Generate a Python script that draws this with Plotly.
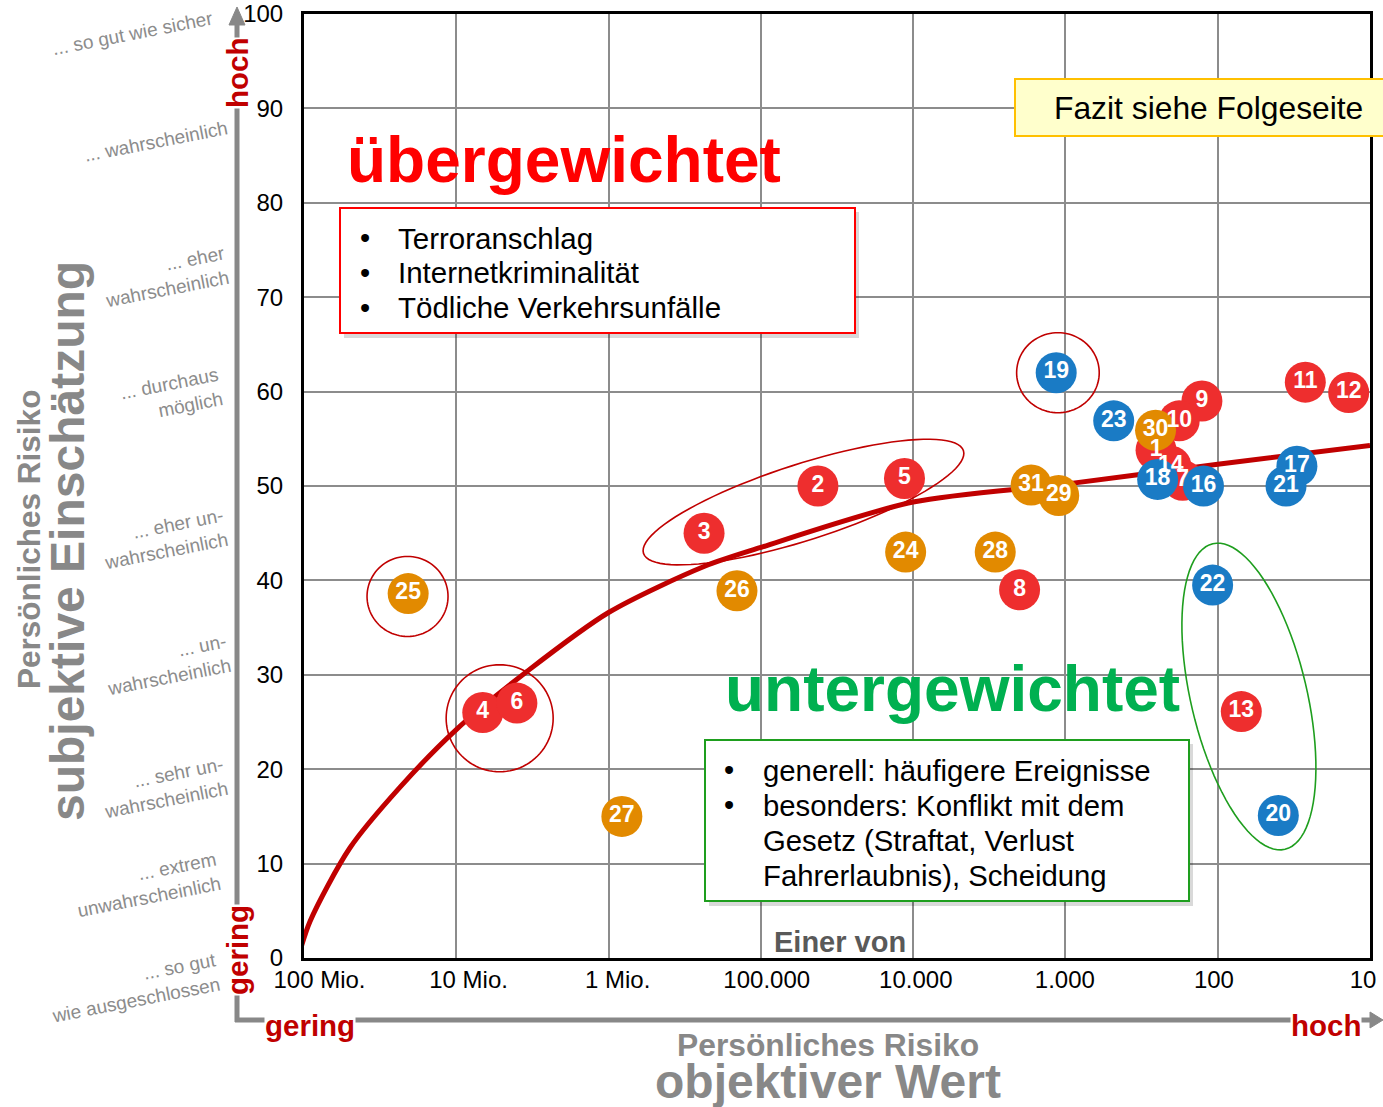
import numpy as np
import plotly.graph_objects as go

# ---------------- data ----------------
ids = [1, 2, 3, 4, 5, 6, 7, 8, 9, 10, 11, 12, 13, 14,
       16, 17, 18, 19, 20, 21, 22, 23,
       24, 25, 26, 27, 28, 29, 30, 31]
one_in_n = [254, 42200, 236000, 6.7e6, 11400, 4.0e6, 170, 2000, 127, 179, 26.6, 13.8, 70, 203,
            124, 30.2, 248, 1150, 40, 35.6, 108, 482,
            11200, 2.07e7, 143500, 818000, 2890, 1107, 256, 1680]
subjective = [53.8, 50.0, 45.0, 26.0, 50.8, 27.0, 50.6, 39.0, 59.0, 56.9, 61.0, 59.9, 26.1, 52.1,
              50.0, 52.1, 50.7, 62.0, 15.1, 50.0, 39.5, 56.9,
              43.0, 38.6, 38.9, 15.0, 43.0, 49.0, 55.9, 50.1]
group = ["rot"] * 14 + ["blau"] * 8 + ["orange"] * 8

tick_n = [1e8, 1e7, 1e6, 1e5, 1e4, 1e3, 1e2, 1e1]
tick_text = ["100 Mio.", "10 Mio.", "1 Mio.", "100.000", "10.000", "1.000", "100", "10"]
y_ticks = [0, 10, 20, 30, 40, 50, 60, 70, 80, 90, 100]

curve_n = [1.096e8, 9.12e7, 5.0e7, 2.34e7, 1e7, 3.47e6, 1e6, 2.34e5, 1e5, 1e4, 1e3, 1e2, 1e1]
curve_y = [0.0, 3.9, 11.65, 18.1, 24.2, 30.3, 36.6, 41.5, 43.5, 48.3, 50.2, 52.3, 54.3]

scale_labels = ["... so gut wie sicher", "... wahrscheinlich", "... eher<br>wahrscheinlich",
                "... durchaus<br>möglich", "... eher un-<br>wahrscheinlich", "... un-<br>wahrscheinlich",
                "... sehr un-<br>wahrscheinlich", "... extrem<br>unwahrscheinlich",
                "... so gut<br>wie ausgeschlossen"]

over_items = ["Terroranschlag", "Internetkriminalität", "Tödliche Verkehrsunfälle"]
under_lines = ["generell: häufigere Ereignisse", "besonders: Konflikt mit dem",
               "Gesetz (Straftat, Verlust", "Fahrerlaubnis), Scheidung"]
under_bullets = [True, True, False, False]

# ---------------- styles / geometry ----------------
W, H = 1383, 1107
PLOT_L, PLOT_T, PLOT_R, PLOT_B = 304, 14, 1370, 958   # plot area in screen pixels
L, T, R, B = PLOT_L, PLOT_T, W - PLOT_R, H - PLOT_B
PW, PH = PLOT_R - PLOT_L, PLOT_B - PLOT_T
X_LEFT, X_RIGHT = 8, 1
PX_DEC = PW / (X_LEFT - X_RIGHT)
PX_UNIT = PH / 100.0
# tick-label row is laid out slightly narrower than the grid (as in the original slide)
LBL_FIRST_PX, LBL_LAST_PX = 319.5, 1363
LBL_DEC = (LBL_LAST_PX - LBL_FIRST_PX) / (X_LEFT - X_RIGHT)
LBL_RANGE = [X_LEFT + (LBL_FIRST_PX - PLOT_L) / LBL_DEC, X_RIGHT - (PLOT_R - LBL_LAST_PX) / LBL_DEC]

FONT = "Arial, Liberation Sans, sans-serif"
colors = {"rot": "#EE2E2E", "blau": "#1A7BC5", "orange": "#E28A00"}
GRAY = "#888888"
DARKRED = "#C00000"


def paper(px, py):
    return (px - PLOT_L) / PW, (PLOT_B - py) / PH


def ellipse_path(n_center, y_center, a_px, b_px, ang_deg):
    t = np.linspace(0, 2 * np.pi, 97)
    th = np.radians(ang_deg)
    dx = a_px * np.cos(t) * np.cos(th) - b_px * np.sin(t) * np.sin(th)
    dy = a_px * np.cos(t) * np.sin(th) + b_px * np.sin(t) * np.cos(th)
    xs = np.log10(n_center) - dx / PX_DEC
    ys = y_center + dy / PX_UNIT
    return "M " + " L ".join(f"{x:.5f},{y:.4f}" for x, y in zip(xs, ys)) + " Z"


fig = go.Figure()

# trend curve
fig.add_trace(go.Scatter(x=np.log10(curve_n), y=curve_y, mode="lines",
                         line=dict(color="#C00000", width=5, shape="spline", smoothing=0.8),
                         hoverinfo="skip", showlegend=False))

# markers by group
for g in ["rot", "blau", "orange"]:
    idx = [i for i, gg in enumerate(group) if gg == g]
    fig.add_trace(go.Scatter(x=np.log10([one_in_n[i] for i in idx]), y=[subjective[i] for i in idx],
                             mode="markers", marker=dict(size=41, color=colors[g], line=dict(width=0)),
                             hoverinfo="skip", showlegend=False, cliponaxis=False))

# labels on top
fig.add_trace(go.Scatter(x=np.log10(one_in_n), y=subjective, mode="text", text=[str(i) for i in ids],
                         textfont=dict(color="white", size=23, family=FONT, weight="bold"),
                         hoverinfo="skip", showlegend=False, cliponaxis=False))

# invisible carrier for the tick-label axis
fig.add_trace(go.Scatter(x=np.log10(tick_n), y=[-50] * len(tick_n), xaxis="x2", yaxis="y",
                         mode="markers", marker=dict(opacity=0), hoverinfo="skip", showlegend=False))

shapes = []
# ellipses
red_ell = [(2.09e7, 38.3, 40.5, 40.0, 0), (5.19e6, 25.4, 53.5, 53.5, 0), (1120, 62.0, 41.3, 40.0, 0),
           (52500, 48.3, 168, 38, 17.8)]
for (n, yv, a, b, ang) in red_ell:
    shapes.append(dict(type="path", xref="x", yref="y", path=ellipse_path(n, yv, a, b, ang),
                       line=dict(color=DARKRED, width=1.6), layer="above"))
shapes.append(dict(type="path", xref="x", yref="y", path=ellipse_path(62.4, 27.7, 157, 58, 103.3),
                   line=dict(color="#1E9E1E", width=1.6), layer="above"))


def rect(x0, y0, x1, y1, **kw):
    a0, b0 = paper(x0, y1)
    a1, b1 = paper(x1, y0)
    d = dict(type="rect", xref="paper", yref="paper", x0=a0, y0=b0, x1=a1, y1=b1, layer="above")
    d.update(kw)
    return d


# boxes with shadows
shapes.append(rect(344, 212, 859, 338, fillcolor="rgba(0,0,0,0.15)", line=dict(width=0)))
shapes.append(rect(340, 208, 855, 333, fillcolor="white", line=dict(color="#FF0000", width=2)))
shapes.append(rect(709, 744, 1193, 906, fillcolor="rgba(0,0,0,0.15)", line=dict(width=0)))
shapes.append(rect(705, 740, 1189, 901, fillcolor="white", line=dict(color="#1E9E1E", width=2)))
shapes.append(rect(1015, 79, 1395, 136, fillcolor="#FFFFCC", line=dict(color="#FFC000", width=2)))


# gray axis arrows
def pline(x0, y0, x1, y1, color, width):
    a0, b0 = paper(x0, y0)
    a1, b1 = paper(x1, y1)
    return dict(type="line", xref="paper", yref="paper", x0=a0, y0=b0, x1=a1, y1=b1,
                line=dict(color=color, width=width), layer="above")


def ppath(points, color):
    s = "M " + " L ".join("{:.5f},{:.5f}".format(*paper(px, py)) for px, py in points) + " Z"
    return dict(type="path", xref="paper", yref="paper", path=s, fillcolor=color,
                line=dict(color=color, width=1), layer="above")


shapes.append(pline(237, 1022, 237, 22, GRAY, 5))
shapes.append(pline(235, 1020, 1373, 1020, GRAY, 5))
shapes.append(ppath([(237, 7), (229, 25), (245, 25)], GRAY))
shapes.append(ppath([(1383, 1020), (1370, 1012), (1370, 1028)], GRAY))

annotations = []


def ann(text, px, py, size, color="black", xanchor="center", yanchor="middle", angle=0, bg=None,
        align="center", bold=False):
    x, y = paper(px, py)
    d = dict(text=("<b>" + text + "</b>") if bold else text, x=x, y=y, xref="paper", yref="paper",
             showarrow=False, xanchor=xanchor, yanchor=yanchor, textangle=angle, align=align,
             font=dict(size=size, color=color, family=FONT), borderpad=0)
    if bg:
        d["bgcolor"] = bg
    annotations.append(d)


# big words
ann("übergewichtet", 346, 160, 64, "#FF0000", xanchor="left", bold=True)
ann("untergewichtet", 724, 689, 64, "#00B050", xanchor="left", bold=True)

# red box content
for k, t in enumerate(over_items):
    yy = 238 + k * 34.8
    ann("•", 365, yy, 29, xanchor="center")
    ann(t, 397, yy, 29.5, xanchor="left")

# green box content
for k, (t, bul) in enumerate(zip(under_lines, under_bullets)):
    yy = 770 + k * 35.2
    if bul:
        ann("•", 729, yy, 29, xanchor="center")
    ann(t, 762, yy, 29.3, xanchor="left")

ann("Fazit siehe Folgeseite", 1053, 108, 31.8, xanchor="left")
ann("Einer von", 840, 942, 29, "#595959", bold=True)

# axis side labels
ann("hoch", 237, 73, 29.5, DARKRED, angle=-90, bg="white", bold=True)
ann("gering", 237, 950, 29.5, DARKRED, angle=-90, bg="white", bold=True)
ann("gering", 310, 1025, 29.5, DARKRED, bg="white", bold=True)
ann("hoch", 1326, 1025, 29.5, DARKRED, bg="white", bold=True)

ann("Persönliches Risiko", 29, 540, 31.5, GRAY, angle=-90, bold=True)
ann("subjektive Einschätzung", 67, 541, 48, GRAY, angle=-90, bold=True)
ann("Persönliches Risiko", 828, 1045, 31.8, GRAY, bold=True)
ann("objektiver Wert", 828, 1081, 48, GRAY, bold=True)

label_pos = [(132, 33), (156, 141), (165, 277), (171, 396), (164, 539), (167, 665), (164, 788),
             (147, 885), (134, 988)]
for t, (px, py) in zip(scale_labels, label_pos):
    ann(t, px, py, 19, "#8C8C8C", angle=-11, align="right")

fig.update_layout(
    width=W, height=H,
    margin=dict(l=L, r=R, t=T, b=B, pad=0, autoexpand=False),
    paper_bgcolor="white", plot_bgcolor="white",
    font=dict(family=FONT, color="black"),
    showlegend=False, hovermode=False,
    shapes=shapes, annotations=annotations,
    xaxis=dict(range=[X_LEFT, X_RIGHT], tickvals=np.log10(tick_n), showticklabels=False,
               showgrid=True, gridcolor="#8C8C8C", gridwidth=2, zeroline=False,
               showline=True, linecolor="black", linewidth=3, mirror=True, automargin=False,
               ticks="", ticklen=0),
    xaxis2=dict(range=LBL_RANGE, tickvals=np.log10(tick_n), ticktext=tick_text, overlaying="x",
                anchor="y", side="bottom", showgrid=False, zeroline=False, showline=False,
                automargin=False, ticks="", ticklen=0, tickfont=dict(size=24, color="black"),
                ticklabelstandoff=5, ticklabeloverflow="allow"),
    yaxis=dict(range=[0, 100], tickvals=y_ticks, showgrid=True, gridcolor="#8C8C8C", gridwidth=2,
               zeroline=False, showline=True, linecolor="black", linewidth=3, mirror=True,
               automargin=False, ticklabeloverflow="allow",
               ticks="", ticklen=0, tickfont=dict(size=24, color="black"), ticklabelstandoff=13),
)

fig.write_html("out.html", config={"displayModeBar": False},
               post_script="document.body.style.margin='0px';")
